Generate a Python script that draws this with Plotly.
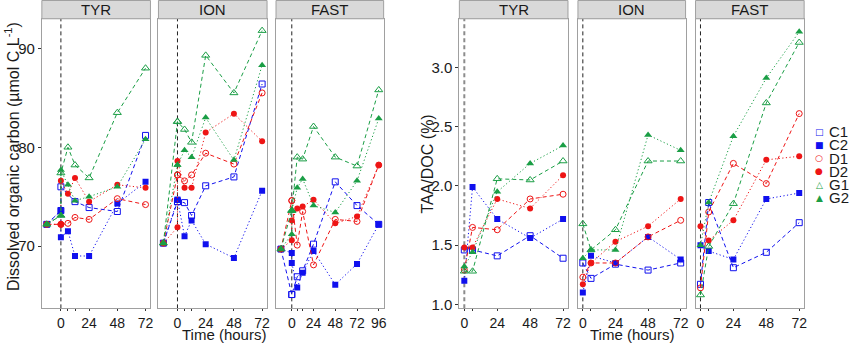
import plotly.graph_objects as go

W, H = 850, 344

# ---------------- data ----------------
series = ["C1", "C2", "D1", "D2", "G1", "G2"]
panels = ["TYR", "ION", "FAST"]

# Dissolved organic carbon (µmol C L-1); two values at t=0 (before / after addition)
doc_time = [-12, 0, 0, 6, 12, 24, 48, 72]
doc_time_fast = [-12, 0, 0, 6, 12, 24, 48, 72, 96]

doc_tyr_C1 = [72.2, 73.6, 76.0, None, 74.5, 73.9, 73.5, 81.2]
doc_tyr_C2 = [72.2, 73.6, 70.9, 71.5, 69.0, 69.0, 74.3, 76.5]
doc_tyr_D1 = [72.2, 72.2, 72.2, 72.3, 72.9, 72.7, 74.8, 74.2]
doc_tyr_D2 = [72.2, 72.2, 76.6, 75.3, 76.9, 74.5, 76.2, 75.9]
doc_tyr_G1 = [72.2, 73.1, 77.4, 80.0, 78.2, 76.9, 83.5, 88.0]
doc_tyr_G2 = [72.2, 73.1, 77.7, 76.2, 74.6, 75.0, 76.0, 80.8]

doc_ion_C1 = [70.3, 74.5, 74.5, 74.4, 73.1, 76.1, 77.0, 86.4]
doc_ion_C2 = [70.3, 74.7, 74.7, 71.0, 72.6, 70.2, 68.8, 75.6]
doc_ion_D1 = [70.3, 77.2, 77.2, 76.6, 77.2, 79.4, 78.3, 85.5]
doc_ion_D2 = [70.3, 71.9, 78.6, 75.9, 75.9, 81.5, 83.4, 80.6]
doc_ion_G1 = [70.3, 82.6, 82.6, 81.8, 80.5, 89.3, 85.5, 91.8]
doc_ion_G2 = [70.3, 78.2, 78.2, 79.7, 79.0, 83.0, 78.7, 88.3]

doc_fast_C1 = [69.7, 65.1, 65.1, 66.9, 67.5, 70.2, 76.5, 74.1, 72.2]
doc_fast_C2 = [69.7, 69.3, 68.3, 65.8, 67.3, 69.5, 66.1, 68.2, 72.2]
doc_fast_D1 = [69.7, 74.6, 74.6, 70.1, 73.5, 68.1, 72.7, 72.5, 78.2]
doc_fast_D2 = [69.7, 70.6, 72.6, 73.8, 74.0, 74.7, 72.3, 73.0, 78.2]
doc_fast_G1 = [69.7, 73.6, 73.6, 79.0, 78.8, 82.1, 79.0, 78.1, 85.8]
doc_fast_G2 = [69.7, 71.2, 73.6, 75.9, 76.8, 74.1, 73.4, 76.6, 82.9]

# TAA/DOC (%)
taa_time = [0, 6, 24, 48, 72]

taa_tyr_C1 = [1.46, 1.46, 1.41, 1.58, 1.39]
taa_tyr_C2 = [1.20, 1.99, 1.72, 1.56, 1.72]
taa_tyr_D1 = [1.29, 1.65, 1.63, 1.89, 1.93]
taa_tyr_D2 = [1.48, 1.48, 1.89, 1.81, 2.09]
taa_tyr_G1 = [1.28, 1.28, 2.06, 2.05, 2.21]
taa_tyr_G2 = [1.32, 1.44, 1.95, 2.19, 2.34]

taa_ion_C1 = [1.35, 1.22, 1.34, 1.29, 1.35]
taa_ion_C2 = [1.10, 1.41, 1.35, 1.57, 1.38]
taa_ion_D1 = [1.23, 1.35, 1.35, 1.57, 1.71]
taa_ion_D2 = [1.17, 1.35, 1.53, 1.66, 1.89]
taa_ion_G1 = [1.68, 1.46, 1.63, 2.21, 2.21]
taa_ion_G2 = [1.39, 1.46, 1.46, 2.43, 2.30]

taa_fast_C1 = [1.17, 1.86, 1.31, 1.44, 1.69]
taa_fast_C2 = [1.50, 1.45, 1.38, 1.89, 1.94]
taa_fast_D1 = [1.14, 1.78, 2.19, 2.02, 2.61]
taa_fast_D2 = [1.66, 1.54, 1.71, 2.22, 2.25]
taa_fast_G1 = [1.08, 1.49, 1.85, 2.70, 3.21]
taa_fast_G2 = [1.50, 1.86, 2.42, 2.91, 3.30]

doc_ticks = [0, 6, 12, 24, 48, 72]
doc_ticks_fast = [0, 6, 12, 24, 48, 72, 96]
taa_ticks = [0, 6, 24, 48, 72]
labelled_ticks = [0, 24, 48, 72, 96]

doc_yticks = [70, 80, 90]
taa_yticks = [1.0, 1.5, 2.0, 2.5, 3.0]

# ---------------- styles ----------------
BLUE, RED, GREEN = "#1010EE", "#EE1515", "#1A9E45"
color = {"C1": BLUE, "C2": BLUE, "D1": RED, "D2": RED, "G1": GREEN, "G2": GREEN}
symbol = {"C1": "square-open", "C2": "square", "D1": "circle-open",
          "D2": "circle", "G1": "triangle-up-open", "G2": "triangle-up"}
glyph = {"C1": "□", "C2": "■", "D1": "○", "D2": "●", "G1": "△", "G2": "▲"}
msize = {"C1": 6, "C2": 6, "D1": 6, "D2": 6, "G1": 7, "G2": 7}
dash = {"C1": "4px,3px", "D1": "4px,3px", "G1": "4px,3px",
        "C2": "1.2px,2.4px", "D2": "1.2px,2.4px", "G2": "1.2px,2.4px"}

FONT = "Liberation Sans, Arial, sans-serif"
TXT = "#1A1A1A"

doc_data = {
    "TYR": (doc_time, dict(C1=doc_tyr_C1, C2=doc_tyr_C2, D1=doc_tyr_D1, D2=doc_tyr_D2, G1=doc_tyr_G1, G2=doc_tyr_G2)),
    "ION": (doc_time, dict(C1=doc_ion_C1, C2=doc_ion_C2, D1=doc_ion_D1, D2=doc_ion_D2, G1=doc_ion_G1, G2=doc_ion_G2)),
    "FAST": (doc_time_fast, dict(C1=doc_fast_C1, C2=doc_fast_C2, D1=doc_fast_D1, D2=doc_fast_D2, G1=doc_fast_G1, G2=doc_fast_G2)),
}
taa_data = {
    "TYR": (taa_time, dict(C1=taa_tyr_C1, C2=taa_tyr_C2, D1=taa_tyr_D1, D2=taa_tyr_D2, G1=taa_tyr_G1, G2=taa_tyr_G2)),
    "ION": (taa_time, dict(C1=taa_ion_C1, C2=taa_ion_C2, D1=taa_ion_D1, D2=taa_ion_D2, G1=taa_ion_G1, G2=taa_ion_G2)),
    "FAST": (taa_time, dict(C1=taa_fast_C1, C2=taa_fast_C2, D1=taa_fast_D1, D2=taa_fast_D2, G1=taa_fast_G1, G2=taa_fast_G2)),
}

# panel pixel boxes (left, right)
left_px = [(42, 151), (159, 268), (277, 385)]
right_px = [(461, 570), (580, 688), (698, 807)]
TOP, BOT = 19, 312
ydom = [1 - BOT / H, 1 - TOP / H]

fig = go.Figure()
layout = dict(
    width=W, height=H, margin=dict(l=0, r=0, t=0, b=0),
    paper_bgcolor="white", plot_bgcolor="white",
    font=dict(family=FONT, size=15, color=TXT),
    showlegend=False,
)
shapes, annotations = [], []


def add_panel(idx, name, box, times, vals, yrange, yticks, xrange, xticks, first, yfmt, zline):
    xa = "x" if idx == 1 else f"x{idx}"
    ya = "y" if idx == 1 else f"y{idx}"
    for s in series:
        fig.add_trace(go.Scatter(
            x=times, y=vals[s], xaxis=xa, yaxis=ya, mode="lines+markers",
            connectgaps=True, showlegend=False, name=s,
            line=dict(color=color[s], width=1, dash=dash[s]),
            marker=dict(symbol=symbol[s], size=msize[s], color=color[s],
                        line=dict(color=color[s], width=1 if "open" in symbol[s] else 0)),
        ))
    ticktext = [str(t) if t in labelled_ticks else "" for t in xticks]
    layout[f"xaxis{'' if idx == 1 else idx}"] = dict(
        domain=[box[0] / W, box[1] / W], range=xrange, anchor=ya,
        tickvals=xticks, ticktext=ticktext, ticks="outside", ticklen=2,
        tickcolor="#333333", tickwidth=1, showgrid=False, zeroline=False,
        showline=True, mirror=True, linecolor="#A0A0A0", linewidth=1,
        tickfont=dict(size=14, color=TXT), fixedrange=True,
    )
    layout[f"yaxis{'' if idx == 1 else idx}"] = dict(
        domain=ydom, range=yrange, anchor=xa,
        tickvals=yticks if first else [], ticktext=[yfmt.format(v) for v in yticks] if first else [],
        ticks="outside" if first else "", ticklen=3, tickcolor="#333333", tickwidth=1,
        showticklabels=first, showgrid=False, zeroline=False,
        showline=True, mirror=True, linecolor="#A0A0A0", linewidth=1,
        tickfont=dict(size=15, color=TXT), fixedrange=True,
    )
    # vertical dashed line at t = 0
    shapes.append(dict(type="line", xref=xa, yref=f"{ya} domain", x0=0, x1=0, y0=0, y1=1,
                       line=zline, layer="below"))
    # strip
    shapes.append(dict(type="rect", xref="paper", yref="paper",
                       x0=box[0] / W, x1=box[1] / W, y0=1 - TOP / H, y1=1 - 0.5 / H,
                       fillcolor="#D9D9D9", line=dict(color="#A0A0A0", width=1)))
    annotations.append(dict(text=name, xref="paper", yref="paper",
                            x=(box[0] + box[1]) / 2 / W, y=1 - 9.5 / H,
                            showarrow=False, font=dict(size=15, color=TXT),
                            xanchor="center", yanchor="middle"))


thin_zero = dict(color="#222222", width=1, dash="4px,3px")
thick_zero = dict(color="#8C8C8C", width=2, dash="4px,3px")

for i, p in enumerate(panels):
    t, v = doc_data[p]
    xr = [-17.4, 101.4] if p == "FAST" else [-16.2, 76.2]
    xt = doc_ticks_fast if p == "FAST" else doc_ticks
    add_panel(i + 1, p, left_px[i], t, v, [63.7, 93.0], doc_yticks, xr, xt, i == 0, "{:.0f}", thin_zero)

for i, p in enumerate(panels):
    t, v = taa_data[p]
    add_panel(i + 4, p, right_px[i], t, v, [0.967, 3.41], taa_yticks, [-3.6, 75.6], taa_ticks,
              i == 0, "{:.1f}", thick_zero if i == 0 else thin_zero)

# legend (symbol key + label), compact rows like the original
for k, s in enumerate(series):
    yc = 1 - (133.3 + 13.35 * k) / H
    annotations.append(dict(text=glyph[s], xref="paper", yref="paper", x=822 / W, y=yc,
                            showarrow=False, xanchor="center", yanchor="middle",
                            font=dict(family="DejaVu Sans", size=9, color=color[s])))
    annotations.append(dict(text=s, xref="paper", yref="paper", x=830 / W, y=yc,
                            showarrow=False, xanchor="left", yanchor="middle",
                            font=dict(size=15, color=TXT)))

# axis titles
annotations.append(dict(text="Dissolved organic carbon (µmol C L<sup>-1</sup>)", xref="paper", yref="paper",
                        x=12 / W, y=1 - 158 / H, textangle=-90, showarrow=False,
                        font=dict(size=16, color=TXT), xanchor="center", yanchor="middle"))
annotations.append(dict(text="TAA/DOC (%)", xref="paper", yref="paper",
                        x=429 / W, y=1 - 166 / H, textangle=-90, showarrow=False,
                        font=dict(size=16, color=TXT), xanchor="center", yanchor="middle"))
annotations.append(dict(text="Time (hours)", xref="paper", yref="paper",
                        x=225 / W, y=1 - 338 / H, showarrow=False,
                        font=dict(size=15, color=TXT), xanchor="center", yanchor="middle"))
annotations.append(dict(text="Time (hours)", xref="paper", yref="paper",
                        x=634 / W, y=1 - 338 / H, showarrow=False,
                        font=dict(size=15, color=TXT), xanchor="center", yanchor="middle"))

layout["shapes"] = shapes
layout["annotations"] = annotations
fig.update_layout(**layout)
fig.write_html("out.html")
